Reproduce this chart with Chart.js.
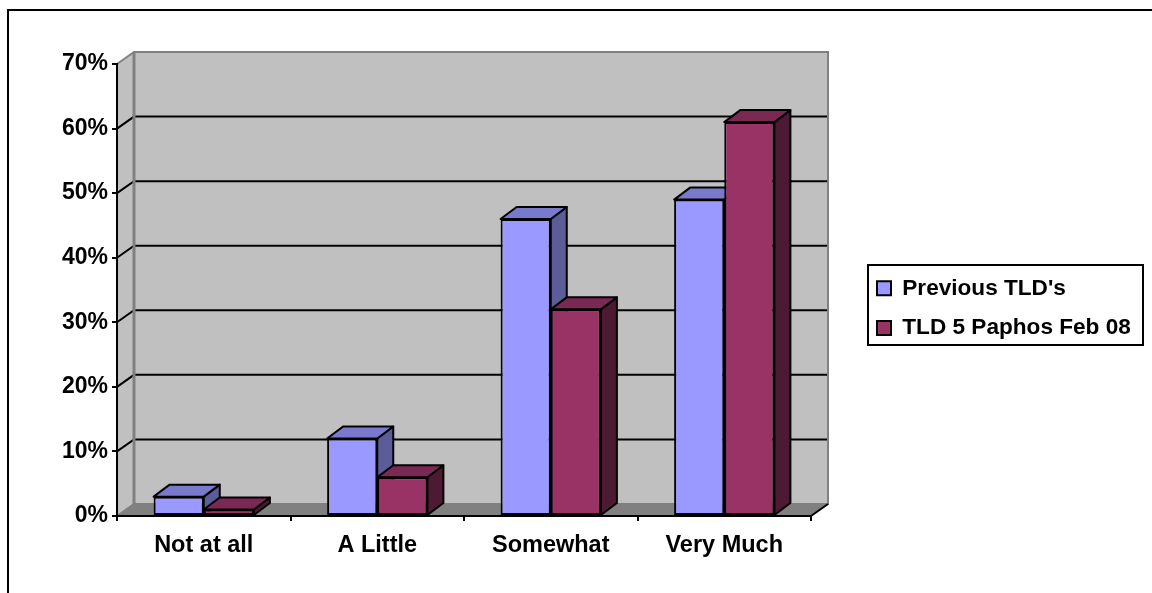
<!DOCTYPE html>
<html>
<head>
<meta charset="utf-8">
<title>TLD survey</title>
<script src="https://cdn.jsdelivr.net/npm/chart.js@4/dist/chart.umd.min.js"></script>
<style>
  html, body { margin: 0; padding: 0; background: #fff; overflow: hidden; }
  canvas { display: block; }
</style>
</head>
<body>
<canvas id="chart" width="1152" height="593"></canvas>
<script>
const categories = ['Not at all', 'A Little', 'Somewhat', 'Very Much'];
const previousTlds = [3, 12, 46, 49];
const tldPaphos = [1, 6, 32, 61];
const seriesNames = ["Previous TLD's", 'TLD 5 Paphos Feb 08'];
const yTicks = [0, 10, 20, 30, 40, 50, 60, 70];

// depth of the fake 3D box
const WALL_DX = 17;
const WALL_DY = -12;
const BAR_DX = 16;
const BAR_DY = -12;

const FONT_FAMILY = '"Liberation Sans", Arial, sans-serif';

function poly(ctx, points, fill, stroke, width) {
  ctx.beginPath();
  points.forEach(([x, y], i) => (i ? ctx.lineTo(x, y) : ctx.moveTo(x, y)));
  ctx.closePath();
  if (fill) {
    ctx.fillStyle = fill;
    ctx.fill();
  }
  if (stroke) {
    ctx.strokeStyle = stroke;
    ctx.lineWidth = width;
    ctx.lineJoin = 'round';
    ctx.stroke();
  }
}

function line(ctx, points, color, width) {
  ctx.beginPath();
  points.forEach(([x, y], i) => (i ? ctx.lineTo(x, y) : ctx.moveTo(x, y)));
  ctx.strokeStyle = color;
  ctx.lineWidth = width;
  ctx.stroke();
}

// outer frame, walls, floor and gridlines sit behind everything
const boxPlugin = {
  id: 'box3d',
  beforeDraw(chart) {
    const { ctx, chartArea: { left, right, top, bottom } } = chart;
    const yScale = chart.scales.y;
    ctx.save();
    line(ctx, [[8, 593], [8, 10], [1152, 10]], '#000', 2);

    const dx = WALL_DX;
    const dy = WALL_DY;
    poly(ctx, [[left + dx, top + dy], [right + dx, top + dy], [right + dx, bottom + dy], [left + dx, bottom + dy]], '#c0c0c0');
    poly(ctx, [[left, top], [left + dx, top + dy], [left + dx, bottom + dy], [left, bottom]], '#c0c0c0');
    poly(ctx, [[left, bottom], [left + dx, bottom + dy], [right + dx, bottom + dy], [right, bottom]], '#808080');

    yTicks.slice(1, -1).forEach((v) => {
      const y = yScale.getPixelForValue(v);
      line(ctx, [[left, y], [left + dx, y + dy], [right + dx, y + dy]], '#000', 2);
    });

    line(ctx, [[left, top], [left + dx, top + dy], [right + dx, top + dy], [right + dx, bottom + dy], [left + dx, bottom + dy], [left, bottom]], '#808080', 2);
    line(ctx, [[left + dx, top + dy], [left + dx, bottom + dy]], '#808080', 3);
    line(ctx, [[right, bottom], [right + dx, bottom + dy]], '#000', 2);
    ctx.restore();
  },
  // each series paints side and top faces first, then the library's front face;
  // the later series has to end up on top, the opposite of the default order
  beforeDatasetsDraw(chart) {
    const { ctx } = chart;
    chart.data.datasets.forEach((ds, index) => {
      const meta = chart.getDatasetMeta(index);
      ctx.save();
      meta.data.forEach((bar) => {
        const { x, y, base, width } = bar.getProps(['x', 'y', 'base', 'width'], true);
        const l = x - width / 2;
        const r = x + width / 2;
        poly(ctx, [[r, y], [r + BAR_DX, y + BAR_DY], [r + BAR_DX, base + BAR_DY], [r, base]], ds.sideColor, '#000', 2);
        poly(ctx, [[l, y], [l + BAR_DX, y + BAR_DY], [r + BAR_DX, y + BAR_DY], [r, y]], ds.topColor, '#000', 2);
      });
      meta.controller.draw();
      ctx.restore();
    });
    return false;
  },
  afterLayout(chart) {
    // legend sits in a boxed spot right of the plot
    const legend = chart.legend;
    legend.left = 860;
    legend.right = 1152;
    legend.top = 260;
    legend.bottom = 360;
  },
  afterDraw(chart) {
    const { ctx } = chart;
    ctx.save();
    ctx.strokeStyle = '#000';
    ctx.lineWidth = 2;
    ctx.strokeRect(868, 265, 275, 80);
    ctx.restore();
  },
};

new Chart(document.getElementById('chart'), {
  type: 'bar',
  data: {
    labels: categories,
    datasets: [
      {
        label: seriesNames[0],
        data: previousTlds,
        backgroundColor: '#9999ff',
        topColor: '#7a7acc',
        sideColor: '#5c5c99',
        borderColor: '#000',
        borderWidth: 2,
        borderSkipped: false,
        inflateAmount: 0,
      },
      {
        label: seriesNames[1],
        data: tldPaphos,
        backgroundColor: '#993366',
        topColor: '#7a2952',
        sideColor: '#4d1a33',
        borderColor: '#000',
        borderWidth: 2,
        borderSkipped: false,
        inflateAmount: 0,
      },
    ],
  },
  options: {
    responsive: false,
    animation: false,
    layout: { padding: { top: 64, right: 341, bottom: 0, left: 0 } },
    datasets: { bar: { categoryPercentage: 0.578, barPercentage: 1 } },
    plugins: {
      tooltip: { enabled: false },
      title: { display: false },
      legend: {
        position: 'chartArea',
        align: 'start',
        labels: {
          boxWidth: 14,
          boxHeight: 14,
          padding: 17,
          color: '#000',
          font: { family: FONT_FAMILY, size: 22.6, weight: 'bold' },
        },
      },
    },
    scales: {
      x: {
        grid: { drawOnChartArea: false, tickLength: 5, color: '#000', lineWidth: 2 },
        border: { color: '#000', width: 2 },
        ticks: {
          color: '#000',
          font: { family: FONT_FAMILY, size: 23.5, weight: 'bold' },
          padding: 10,
          maxRotation: 0,
        },
        afterFit: (scale) => { scale.height = 77; },
      },
      y: {
        min: 0,
        max: 70,
        grid: { drawOnChartArea: false, tickLength: 5, color: '#000', lineWidth: 2 },
        border: { color: '#000', width: 2 },
        afterBuildTicks: (scale) => { scale.ticks = yTicks.map((value) => ({ value })); },
        ticks: {
          color: '#000',
          font: { family: FONT_FAMILY, size: 23, weight: 'bold' },
          padding: 4,
          callback: (v) => `${v}%`,
        },
        afterFit: (scale) => { scale.width = 117; },
      },
    },
  },
  plugins: [boxPlugin],
});
</script>
</body>
</html>
